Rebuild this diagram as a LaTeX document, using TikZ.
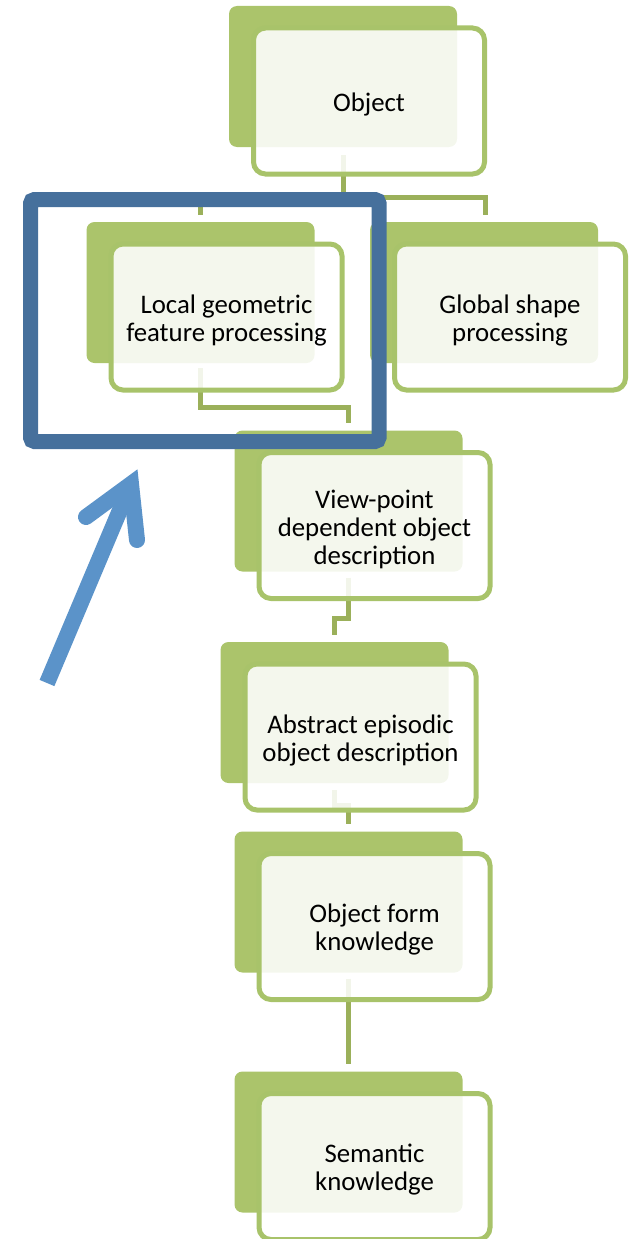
\documentclass[tikz,border=0pt]{standalone}
\usepackage{fontspec}
\setmainfont{Carlito}
\definecolor{boxgreen}{RGB}{171,196,107}
\definecolor{boxline}{RGB}{168,195,106}
\definecolor{linkgreen}{RGB}{155,176,90}
\definecolor{framblue}{RGB}{70,112,156}
\definecolor{arrblue}{RGB}{91,147,201}
\begin{document}
\begin{tikzpicture}
                [x=1pt, y=-1pt,
                backbox/.style = {rectangle, fill=boxgreen, rounded corners=8pt,
                                  minimum width=228pt, minimum height=141pt, inner sep=0pt},
                frontbox/.style = {rectangle, draw=boxline, line width=5pt, fill=white,
                                   fill opacity=0.88, text opacity=1, rounded corners=12pt,
                                   minimum width=231pt, minimum height=146pt, inner sep=0pt,
                                   text width=224pt, align=flush center, xshift=26pt, yshift=-24.5pt,
                                   font=\fontsize{26.8pt}{28pt}\selectfont,
                                   execute at begin node={\rule{0pt}{25.5pt}}},
                link/.style = {draw=linkgreen, line width=5pt},
                pointer/.style = {draw=arrblue, line width=16pt}]
                \useasboundingbox (0,0) rectangle (630,1239);
                % Back boxes
                \node[backbox] (obj-bg) at (343,76.5) {};
                \node[backbox] (loc-bg) at (200.5,292.5) {};
                \node[backbox] (glob-bg) at (484,292.5) {};
                \node[backbox] (view-bg) at (348.5,501) {};
                \node[backbox] (abs-bg) at (334.5,712.5) {};
                \node[backbox] (form-bg) at (348.5,902) {};
                \node[backbox] (sem-bg) at (348.5,1142) {};
                % Connectors
                \draw[link] ([yshift=-8pt]obj-bg.south) -- ++(0,42) -| ([yshift=7pt]loc-bg.north);
                \draw[link] ([yshift=-8pt]obj-bg.south) -- ++(0,42) -| ([xshift=1pt,yshift=7pt]glob-bg.north);
                \draw[link] ([yshift=-5pt]loc-bg.south) -- ++(0,39) -| ([yshift=7pt]view-bg.north);
                \draw[link] ([yshift=-6pt]view-bg.south) -- ++(0,41) -| ([yshift=7pt]abs-bg.north);
                \draw[link] ([yshift=-7pt]abs-bg.south) -- ++(0,15) -| ([yshift=7pt]form-bg.north);
                \draw[link] ([yshift=-6pt]form-bg.south) -- ([yshift=7pt]sem-bg.north);
                % Front boxes
                \node[frontbox] (obj) at (obj-bg) {Object};
                \node[frontbox] (loc) at (loc-bg) {Local geometric\\feature processing};
                \node[frontbox] (glob) at (glob-bg) {Global shape\\processing};
                \node[frontbox] (view) at (view-bg) {View-point\\dependent object\\description};
                \node[frontbox] (abs) at (abs-bg) {Abstract episodic\\object description};
                \node[frontbox] (form) at (form-bg) {Object form\\knowledge};
                \node[frontbox] (sem) at (sem-bg) {Semantic\\knowledge};
                % Highlight frame
                \draw[draw=framblue, line width=15pt, rounded corners=4pt] (30.5,199.5) rectangle (379,441.5);
                % Pointer arrow
                \coordinate (arr-tail) at (47,683);
                \coordinate (arr-tip) at (131,484);
                \draw[pointer] (arr-tail) -- (arr-tip);
                \draw[pointer, line cap=round, line join=miter]
                    ([shift={(-45,33)}]arr-tip) -- (arr-tip) -- ([shift={(6,56)}]arr-tip);
\end{tikzpicture}
\end{document}
